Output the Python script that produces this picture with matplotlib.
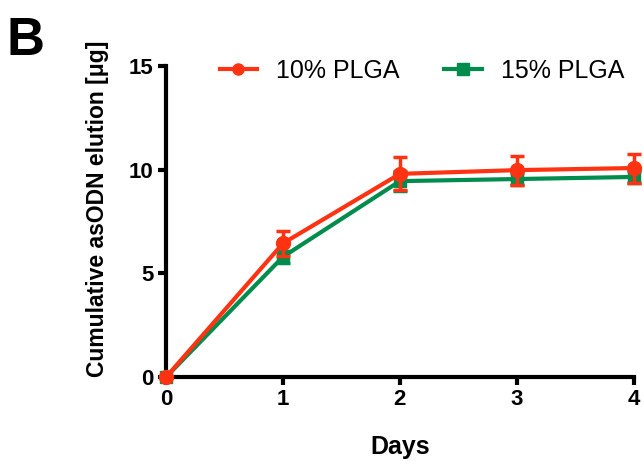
import numpy as np
from matplotlib import pyplot as plt
from matplotlib.lines import Line2D

#  -------------------------------------------  data  ------------------------------------------  #

days = [0, 1, 2, 3, 4]

plga10 = [0.0, 6.45, 9.8, 9.98, 10.08]
plga10_err = [0.0, 0.6, 0.8, 0.7, 0.7]

plga15 = [0.0, 5.8, 9.45, 9.55, 9.65]
plga15_err = [0.0, 0.3, 0.5, 0.3, 0.3]

#  -------------------------------------------  plot  ------------------------------------------  #

plt.rcParams["font.family"] = ["Liberation Sans", "DejaVu Sans"]

fig = plt.figure(figsize=(6.44, 4.62), dpi=100)
ax = fig.add_axes([0.258, 0.184, 0.726, 0.673])

red = "#FF3311"
green = "#008C4C"

ax.errorbar(days, plga15, yerr=plga15_err, color=green, marker="s", ms=9, lw=3,
            capsize=5, capthick=2.5, elinewidth=2.5, clip_on=False, zorder=3)
ax.errorbar(days, plga10, yerr=plga10_err, color=red, marker="o", ms=10, lw=3,
            capsize=5, capthick=2.5, elinewidth=2.5, clip_on=False, zorder=4)

ax.set_xlim(0, 4)
ax.set_ylim(0, 15)
ax.set_xticks(days)
ax.set_yticks([0, 5, 10, 15])

for s in ("top", "right"):
    ax.spines[s].set_visible(False)
for s in ("left", "bottom"):
    ax.spines[s].set_linewidth(3)

ax.tick_params(width=3, length=6, labelsize=16, pad=3)
for lab in ax.get_xticklabels() + ax.get_yticklabels():
    lab.set_fontweight("bold")

ax.set_xlabel("Days", fontsize=18, fontweight="bold", labelpad=18)
ax.set_ylabel("Cumulative asODN elution [\u03bcg]", fontsize=16.5, fontweight="bold",
              labelpad=14, y=0.54)

handles = [Line2D([], [], color=red, marker="o", ms=8, lw=3),
           Line2D([], [], color=green, marker="s", ms=8, lw=3)]
ax.legend(handles, ["10% PLGA", "15% PLGA"], loc="center", bbox_to_anchor=(0.547, 0.985), ncol=2,
          frameon=False, fontsize=18, handlelength=1.5, handletextpad=0.75, columnspacing=1.8)

fig.text(0.01, 0.965, "B", fontsize=38, fontweight="bold", va="top")

plt.savefig("out.png", dpi=100)
